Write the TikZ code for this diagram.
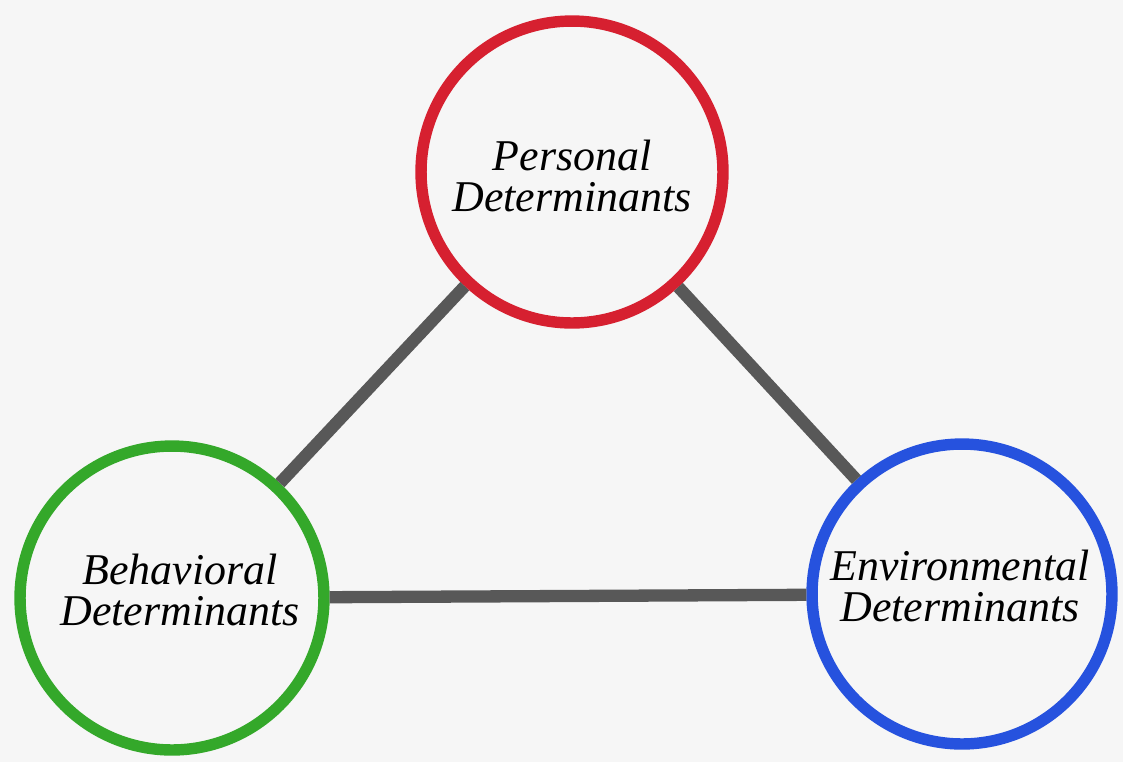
\documentclass[tikz,border=0pt]{standalone}
\usepackage{fontspec}
\setmainfont{Liberation Serif}
\begin{document}
\begin{tikzpicture}[x=0.02cm,y=-0.02cm,
  ring/.style={circle,line width=6.5pt,minimum size=#1,inner sep=0pt,fill=bgc},
  lbl/.style={font=\fontsize{25}{23.5}\selectfont\itshape,align=center},
  link/.style={line width=7pt,draw=linkgray}]
\definecolor{bgc}{RGB}{246,246,246}
\definecolor{redc}{RGB}{214,32,48}
\definecolor{greenc}{RGB}{52,168,42}
\definecolor{bluec}{RGB}{38,82,222}
\definecolor{linkgray}{RGB}{88,88,88}
\fill[bgc] (0,0) rectangle (1123,762);
\useasboundingbox (0,0) rectangle (1123,762);
\node[ring=6.04cm,draw=redc] (P) at (572,172) {};
\node[ring=6.08cm,draw=greenc] (B) at (172,598) {};
\node[ring=6.0cm,draw=bluec] (E) at (962,594) {};
\draw[link] (P) -- (B);
\draw[link] (P) -- (E);
\draw[link] (B) -- (E);
\node[lbl] (Pt) at (572,176) {Personal\\Determinants};
\node[lbl] (Bt) at (180,590) {Behavioral\\Determinants};
\node[lbl] (Et) at (960,586) {Environmental\\Determinants};
\end{tikzpicture}
\end{document}
